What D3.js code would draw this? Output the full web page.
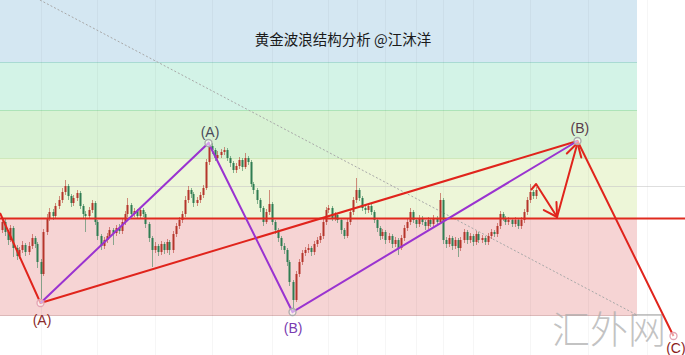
<!DOCTYPE html>
<html><head><meta charset="utf-8">
<script src="https://cdn.jsdelivr.net/npm/d3@7"></script>
<style>html,body{margin:0;padding:0;background:#fff;overflow:hidden}</style>
</head><body><svg id="c" width="685" height="355"></svg>
<script>
// ---- data ----
const opens=[1270,1278,1268,1260,1272,1252,1244,1250,1255,1248,
1254,1262,1256,1238,1226,1268,1282,1288,1284,1294,
1300,1308,1314,1304,1297,1302,1307,1294,1286,1284,
1290,1297,1278,1264,1254,1260,1264,1270,1267,1272,
1269,1278,1286,1295,1286,1289,1284,1290,1286,1276,
1262,1250,1254,1248,1256,1250,1258,1250,1266,1274,
1280,1286,1300,1310,1306,1297,1300,1305,1312,1338,
1354,1350,1342,1345,1348,1350,1342,1337,1330,1334,
1340,1333,1342,1338,1316,1310,1300,1292,1278,1288,
1296,1278,1270,1262,1254,1250,1238,1218,1200,1226,
1238,1247,1250,1252,1248,1256,1260,1264,1278,1290,
1292,1282,1285,1280,1270,1264,1278,1288,1300,1310,
1302,1292,1290,1294,1288,1280,1272,1264,1268,1260,
1264,1256,1260,1252,1262,1272,1278,1288,1280,1276,
1282,1278,1274,1280,1276,1282,1278,1300,1260,1256,
1262,1254,1260,1252,1260,1268,1260,1264,1258,1266,
1260,1262,1258,1264,1268,1266,1274,1286,1282,1278,
1280,1276,1280,1274,1280,1288,1300,1308,1304];
const highs=[1282,1281,1270,1275,1274,1255,1253,1259,1257,1258,
1266,1264,1258,1241,1271,1286,1292,1291,1297,1304,
1312,1320,1316,1306,1305,1310,1309,1296,1289,1293,
1300,1299,1280,1266,1263,1267,1273,1272,1275,1276,
1281,1289,1302,1297,1292,1291,1293,1292,1288,1278,
1264,1258,1256,1259,1258,1261,1260,1269,1277,1283,
1289,1304,1314,1312,1308,1303,1308,1315,1341,1358,
1357,1352,1349,1351,1353,1352,1344,1339,1337,1343,
1342,1347,1344,1340,1318,1312,1302,1294,1291,1310,
1298,1280,1272,1264,1257,1252,1240,1220,1229,1241,
1250,1253,1256,1254,1259,1263,1267,1281,1293,1295,
1294,1288,1287,1282,1272,1281,1291,1303,1322,1312,
1304,1295,1297,1296,1290,1282,1274,1271,1270,1267,
1266,1263,1262,1265,1275,1281,1292,1290,1282,1285,
1284,1280,1283,1282,1285,1284,1307,1302,1263,1265,
1264,1263,1262,1263,1271,1270,1267,1266,1269,1268,
1265,1264,1267,1271,1270,1277,1289,1288,1284,1283,
1282,1283,1282,1283,1291,1303,1316,1310,1313];
const lows=[1267,1264,1255,1258,1243,1240,1241,1247,1244,1245,
1251,1252,1232,1197,1224,1265,1279,1280,1281,1291,
1297,1305,1300,1293,1294,1299,1291,1281,1268,1281,
1287,1275,1260,1250,1251,1257,1262,1255,1264,1266,
1266,1275,1283,1283,1283,1281,1282,1283,1272,1258,
1233,1247,1244,1245,1246,1247,1245,1247,1263,1271,
1277,1283,1297,1302,1293,1294,1297,1302,1310,1335,
1346,1339,1340,1342,1345,1339,1333,1327,1327,1331,
1329,1331,1335,1313,1306,1296,1288,1274,1276,1285,
1275,1266,1258,1250,1246,1234,1214,1188,1198,1223,
1235,1244,1247,1244,1245,1253,1257,1261,1275,1287,
1279,1279,1277,1266,1261,1262,1275,1285,1297,1299,
1289,1286,1287,1285,1277,1268,1260,1261,1256,1257,
1252,1253,1245,1250,1259,1269,1275,1277,1272,1273,
1275,1270,1271,1273,1273,1275,1276,1256,1252,1253,
1250,1251,1243,1249,1257,1256,1257,1254,1255,1257,
1257,1255,1255,1261,1263,1263,1271,1279,1275,1275,
1273,1273,1271,1271,1277,1285,1297,1301,1301];
const closes=[1278,1268,1260,1272,1252,1244,1250,1255,1248,1254,
1262,1256,1238,1226,1268,1282,1288,1284,1294,1300,
1308,1314,1304,1297,1302,1307,1294,1286,1284,1290,
1297,1278,1264,1254,1260,1264,1270,1267,1272,1269,
1278,1286,1295,1286,1289,1284,1290,1286,1276,1262,
1250,1254,1248,1256,1250,1258,1250,1266,1274,1280,
1286,1300,1310,1306,1297,1300,1305,1312,1338,1354,
1350,1342,1345,1348,1350,1342,1337,1330,1334,1340,
1333,1342,1338,1316,1310,1300,1292,1278,1288,1296,
1278,1270,1262,1254,1250,1238,1218,1200,1226,1238,
1247,1250,1252,1248,1256,1260,1264,1278,1290,1292,
1282,1285,1280,1270,1264,1278,1288,1300,1310,1302,
1292,1290,1294,1288,1280,1272,1264,1268,1260,1264,
1256,1260,1252,1262,1272,1278,1288,1280,1276,1282,
1278,1274,1280,1276,1282,1278,1300,1260,1256,1262,
1254,1260,1252,1260,1268,1260,1264,1258,1266,1260,
1262,1258,1264,1268,1266,1274,1286,1282,1278,1280,
1276,1280,1274,1280,1288,1300,1308,1304,1310];

const bandEdges=[1500,1438,1390,1342,1281,1185];
const bandColors=["#d4e7f2","#d3f3e7","#d8f2d4","#edf6d8","#f6d4d4"];
const bandLineColors=["#a9dad3","#ade3b8","#cfe8bb","#e03020","#dcb8b8"];
const bandEndIdx=212;
const gridIdx=[13,32,51,70,90,109,118.5,128,138,147,157,176,195.5,215];
const keyLevel=1281.5;
const grayLevel=1314;
const trendDots=[{i:12.8,p:1500},{i:211.8,p:1185}];
const wavePurple=[{i:13,p:1197},{i:69,p:1357},{i:97,p:1188},{i:192,p:1359}];
const waveRed=[{i:-0.5,p:1287},{i:13,p:1197},{i:192,p:1359},{i:224,p:1164}];
const arrowPath=[{i:176.5,p:1310},{i:178.2,p:1316},{i:185.2,p:1283},{i:192,p:1357}];
const pivots=[{i:13,p:1197,c:"#e3a3b3"},{i:69,p:1357,c:"#aaaaaa"},{i:97,p:1188,c:"#aaaaaa"},{i:192,p:1359,c:"#aaaaaa"},{i:224,p:1164,c:"#e3a3b3"}];
const labels=[{t:"(A)",i:13.5,p:1180,c:"#8b2b2b"},{t:"(A)",i:69.5,p:1368,c:"#4a4a5a"},{t:"(B)",i:97.2,p:1172,c:"#7a3cb0"},{t:"(B)",i:192.8,p:1372,c:"#5a3a4a"},{t:"(C)",i:224.8,p:1152,c:"#8b1a1a"}];
const title="黄金波浪结构分析 @江沐洋";
const watermark="汇外网";

// ---- scales ----
const W=685,H=355;
const x=d3.scaleLinear().domain([0,228]).range([1.5,685.5]);
const y=d3.scaleLinear().domain([1145,1500]).range([355,0]);
const svg=d3.select("#c");

// bands
const bands=d3.range(bandColors.length).map(k=>({top:bandEdges[k],bot:bandEdges[k+1],c:bandColors[k],lc:bandLineColors[k]}));
svg.selectAll("rect.band").data(bands).enter().append("rect")
 .attr("x",0).attr("y",d=>y(d.top)).attr("width",x(bandEndIdx)-0.5)
 .attr("height",d=>y(d.bot)-y(d.top)).attr("fill",d=>d.c);
svg.selectAll("line.bl").data(bands.filter((d,k)=>k!==3)).enter().append("line")
 .attr("x1",0).attr("x2",x(bandEndIdx)-0.5)
 .attr("y1",d=>Math.round(y(d.bot))+0.5).attr("y2",d=>Math.round(y(d.bot))+0.5)
 .attr("stroke",d=>d.lc).attr("stroke-width",1);

// vertical grid
svg.selectAll("line.g").data(gridIdx).enter().append("line")
 .attr("x1",d=>Math.round(x(d))+0.5).attr("x2",d=>Math.round(x(d))+0.5)
 .attr("y1",0).attr("y2",H).attr("stroke","#000").attr("stroke-opacity",0.035);

// gray horizontal level
svg.append("line").attr("x1",0).attr("x2",W)
 .attr("y1",Math.round(y(grayLevel))+0.5).attr("y2",Math.round(y(grayLevel))+0.5)
 .attr("stroke","#c8c8c8").attr("stroke-opacity",0.6);

// dotted trend
svg.append("line").attr("x1",x(trendDots[0].i)).attr("y1",y(trendDots[0].p))
 .attr("x2",x(trendDots[1].i)).attr("y2",y(trendDots[1].p))
 .attr("stroke","#a8a8a8").attr("stroke-width",1).attr("stroke-dasharray","2,2");

// watermark (behind the wave lines)
svg.append("text").attr("x",609).attr("y",326).attr("text-anchor","middle").attr("dominant-baseline","central")
 .attr("font-family","Noto Sans CJK SC, sans-serif").attr("font-size",38).attr("font-weight",300)
 .attr("fill","#a8a8a8").attr("fill-opacity",0.7).text(watermark);

// candles
const candles=closes.map((c,i)=>({i,o:opens[i],h:highs[i],l:lows[i],c}));
const up="#b5352b",dn="#2f7d52";
const cg=svg.append("g");
cg.selectAll("line.w").data(candles).enter().append("line")
 .attr("x1",d=>Math.round(x(d.i))+0.5).attr("x2",d=>Math.round(x(d.i))+0.5)
 .attr("y1",d=>y(d.h)).attr("y2",d=>y(d.l))
 .attr("stroke",d=>d.c>=d.o?up:dn).attr("stroke-opacity",0.55).attr("stroke-width",1);
cg.selectAll("rect.b").data(candles).enter().append("rect")
 .attr("x",d=>Math.round(x(d.i))-0.5).attr("width",2)
 .attr("y",d=>y(Math.max(d.o,d.c))).attr("height",d=>Math.max(1,Math.abs(y(d.o)-y(d.c))))
 .attr("fill",d=>d.c>=d.o?up:dn);

// key red level
svg.append("line").attr("x1",0).attr("x2",W).attr("y1",y(keyLevel)).attr("y2",y(keyLevel))
 .attr("stroke","#e02a1e").attr("stroke-width",2);

// wave lines
const ln=d3.line().x(d=>x(d.i)).y(d=>y(d.p));
svg.append("path").attr("d",ln(waveRed)).attr("fill","none").attr("stroke","#e0241c").attr("stroke-width",2);
svg.append("path").attr("d",ln(wavePurple)).attr("fill","none").attr("stroke","#9a33d0").attr("stroke-width",2);
svg.append("path").attr("d",ln(arrowPath)).attr("fill","none").attr("stroke","#e0241c").attr("stroke-width",2).attr("stroke-linejoin","round");
// arrow heads at the two turning ends
[[1,2],[2,3]].forEach(([a,b])=>{
  const x0=x(arrowPath[a].i),y0=y(arrowPath[a].p),x1=x(arrowPath[b].i),y1=y(arrowPath[b].p);
  const ang=Math.atan2(y0-y1,x0-x1),L=15,s=Math.PI/6;
  [ang-s,ang+s].forEach(t=>{
    svg.append("line").attr("x1",x1).attr("y1",y1).attr("x2",x1+L*Math.cos(t)).attr("y2",y1+L*Math.sin(t))
     .attr("stroke","#e0241c").attr("stroke-width",2).attr("stroke-linecap","round");
  });
});

// pivots
svg.selectAll("circle.p").data(pivots).enter().append("circle")
 .attr("cx",d=>x(d.i)).attr("cy",d=>y(d.p)).attr("r",3.5)
 .attr("fill","rgba(255,255,255,0.55)").attr("stroke",d=>d.c).attr("stroke-width",1.3);

// labels
svg.selectAll("text.l").data(labels).enter().append("text")
 .attr("x",d=>x(d.i)).attr("y",d=>y(d.p)).attr("text-anchor","middle").attr("dominant-baseline","central")
 .attr("font-family","Liberation Sans, Arial, sans-serif").attr("font-size",14).attr("fill",d=>d.c).text(d=>d.t);

// title
svg.append("text").attr("x",343).attr("y",38).attr("text-anchor","middle").attr("dominant-baseline","central")
 .attr("font-family","Noto Sans CJK SC, sans-serif").attr("font-size",14.5).attr("fill","#1a1a1a").text(title);
</script></body></html>
